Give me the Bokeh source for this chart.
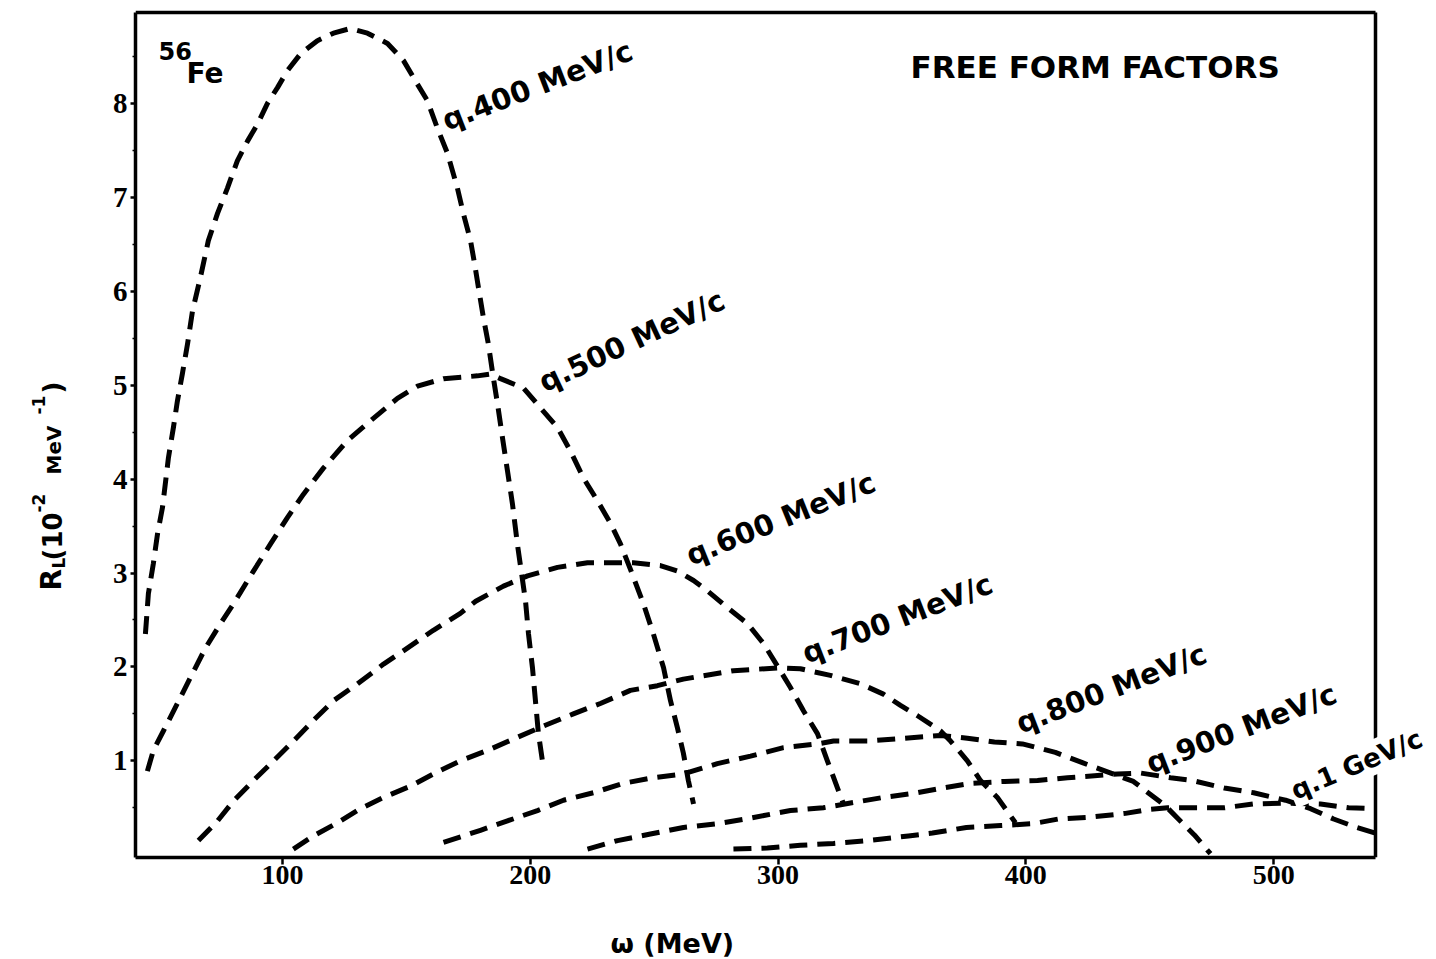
from bokeh.plotting import figure
from bokeh.models import Label, FixedTicker, Range1d
from bokeh.layouts import column, row
from bokeh.embed import file_html
from bokeh.resources import INLINE

# ---------------- data (omega in MeV, R_L in 10^-2 MeV^-1) ----------------
w_q400 = [44.7, 45.9, 47.9, 49.6, 51.6, 54.0, 56.0, 57.6, 59.6, 61.7, 63.7, 66.9, 70.1, 73.8,
          77.8, 81.8, 85.9, 89.9, 93.9, 98.0, 102.0, 107.3, 114.1, 120.6, 127.4, 134.3, 142.4,
          148.8, 153.7, 158.5, 162.5, 166.6, 170.6, 173.0, 175.9, 177.5, 179.1, 181.1, 183.1,
          185.1, 186.8, 188.8, 190.8, 192.8, 194.8, 198.1, 199.3, 200.9, 202.1, 203.3, 205.3]
r_q400 = [2.35, 2.78, 3.10, 3.42, 3.70, 4.23, 4.55, 4.83, 5.12, 5.44, 5.79, 6.15, 6.54, 6.83,
          7.10, 7.39, 7.60, 7.78, 8.00, 8.17, 8.35, 8.53, 8.67, 8.75, 8.80, 8.75, 8.64,
          8.46, 8.24, 8.03, 7.74, 7.47, 7.10, 6.83, 6.54, 6.30, 6.04, 5.72, 5.44,
          5.08, 4.80, 4.44, 4.09, 3.74, 3.31, 2.70, 2.35, 1.99, 1.64, 1.29, 0.93]

w_q500 = [45.5, 47.9, 52.0, 57.6, 63.7, 68.9, 75.0, 80.2, 88.3, 95.2, 102.0, 108.5, 116.6,
          126.2, 135.5, 146.4, 154.5, 165.0, 178.7, 183.9, 188.0, 197.3, 204.1, 211.0, 216.2,
          221.5, 227.1, 232.4, 236.4, 241.0, 245.7, 249.7, 253.8, 256.6, 259.4, 261.8, 263.8, 265.9]
r_q500 = [0.89, 1.11, 1.32, 1.61, 1.93, 2.20, 2.46, 2.67, 3.02, 3.31, 3.59, 3.84, 4.12,
          4.41, 4.62, 4.86, 4.99, 5.07, 5.10, 5.12, 5.07, 4.97, 4.76, 4.55, 4.30,
          4.01, 3.77, 3.53, 3.31, 3.00, 2.67, 2.35, 1.99, 1.64, 1.35, 1.08, 0.79, 0.54]

w_q600 = [66.1, 73.8, 80.2, 88.3, 96.4, 104.4, 112.5, 120.6, 130.3, 140.8, 150.4, 160.9, 171.8,
          178.0, 189.2, 198.9, 211.0, 223.1, 233.6, 241.6, 252.5, 259.4, 265.9, 271.5, 279.6,
          287.7, 294.1, 300.2, 305.0, 310.3, 315.9, 319.9, 324.0, 326.4]
r_q600 = [0.15, 0.36, 0.57, 0.79, 1.00, 1.21, 1.43, 1.64, 1.82, 2.03, 2.20, 2.39, 2.57,
          2.70, 2.86, 2.97, 3.06, 3.11, 3.11, 3.11, 3.08, 3.02, 2.92, 2.81, 2.63,
          2.46, 2.25, 1.99, 1.78, 1.53, 1.29, 1.00, 0.71, 0.54]

w_q700 = [104.4, 112.5, 122.2, 131.5, 140.8, 151.7, 160.9, 171.8, 182.7, 194.8, 205.3, 217.4,
          228.3, 240.4, 251.3, 261.8, 282.0, 301.0, 309.0, 321.1, 333.3, 342.5, 349.4, 356.3,
          365.5, 369.6, 376.4, 381.7, 388.5, 395.8]
r_q700 = [0.06, 0.20, 0.34, 0.49, 0.61, 0.73, 0.86, 1.00, 1.11, 1.25, 1.37, 1.50,
          1.61, 1.75, 1.80, 1.87, 1.96, 1.99, 1.98, 1.91, 1.82, 1.71, 1.59, 1.48,
          1.32, 1.21, 1.00, 0.79, 0.61, 0.34]

w_q800 = [165.0, 179.9, 190.8, 202.9, 213.4, 225.5, 237.6, 249.7, 261.8, 275.5, 288.9, 302.2,
          315.9, 322.4, 336.1, 350.7, 365.5, 376.4, 387.3, 398.6, 411.9, 422.8, 432.1, 443.4,
          456.3, 468.0, 474.5]
r_q800 = [0.13, 0.26, 0.36, 0.47, 0.58, 0.66, 0.76, 0.82, 0.86, 0.97, 1.05, 1.14,
          1.18, 1.21, 1.21, 1.24, 1.27, 1.24, 1.20, 1.18, 1.09, 0.98, 0.89, 0.78,
          0.52, 0.21, 0.01]

w_q900 = [223.1, 235.2, 248.5, 261.8, 275.5, 288.9, 305.0, 318.3, 329.2, 342.5, 356.3, 366.3,
          377.6, 391.4, 404.7, 416.8, 427.7, 437.0, 446.2, 458.4, 467.2, 480.1, 491.9, 504.8,
          514.9, 524.2, 533.5, 541.0]
r_q900 = [0.06, 0.15, 0.22, 0.29, 0.33, 0.39, 0.47, 0.50, 0.55, 0.61, 0.66, 0.71,
          0.76, 0.78, 0.79, 0.82, 0.84, 0.86, 0.87, 0.82, 0.79, 0.71, 0.66, 0.58,
          0.49, 0.38, 0.29, 0.23]

w_q1000 = [282.0, 295.7, 309.0, 322.4, 336.1, 352.6, 362.3, 376.0, 389.8, 402.7, 413.2, 426.1,
           440.2, 449.1, 457.2, 467.6, 480.1, 491.9, 504.8, 518.9, 530.2, 541.0]
r_q1000 = [0.06, 0.07, 0.10, 0.12, 0.15, 0.20, 0.23, 0.29, 0.31, 0.33, 0.38, 0.40,
           0.44, 0.48, 0.50, 0.50, 0.50, 0.54, 0.55, 0.54, 0.50, 0.49]

curves = [(w_q400, r_q400), (w_q500, r_q500), (w_q600, r_q600), (w_q700, r_q700),
          (w_q800, r_q800), (w_q900, r_q900), (w_q1000, r_q1000)]

curve_labels = ["q.400 MeV/c", "q.500 MeV/c", "q.600 MeV/c", "q.700 MeV/c",
                "q.800 MeV/c", "q.900 MeV/c", "q.1 GeV/c"]

x_ticks = [100, 200, 300, 400, 500]
y_ticks = [1, 2, 3, 4, 5, 6, 7, 8]
y_minor = [0.5, 1.5, 2.5, 3.5, 4.5, 5.5, 6.5, 7.5, 8.5]

# ---------------- page geometry (pixels) ----------------
PW = 1436
WL = 100                    # left strip (y title)
HM = 897                    # main figure height
HB = 62                     # bottom strip (x title)
FL, FR, FT, FB = 135, 1375, 12, 857   # visible plot box on the page
X0, X1 = 40.7, 541.1        # omega at box left / right
Y0, Y1 = -0.03, 8.97        # R_L at box bottom / top
KX = (X1 - X0) / (FR - FL)
KY = (Y1 - Y0) / (FB - FT)


def dx(sx):
    return X0 + (sx - FL) * KX


def dy(sy):
    return Y0 + (FB - sy) * KY


BLACK = "black"
FONT = "DejaVu Sans"

# ---------------- main figure ----------------
p = figure(width=PW - WL, height=HM, title=None,
           x_range=Range1d(X0, dx(PW)), y_range=Range1d(Y0, dy(0)),
           output_backend="svg", toolbar_location=None,
           min_border_left=FL - WL, min_border_right=0,
           min_border_top=0, min_border_bottom=HM - FB)
p.xgrid.visible = False
p.ygrid.visible = False
p.background_fill_color = "white"
p.border_fill_color = "white"
p.outline_line_color = None

TICK_FONT = "Liberation Serif"
for ax in (p.xaxis[0], p.yaxis[0]):
    ax.axis_line_width = 3.5
    ax.axis_line_color = BLACK
    ax.major_tick_line_width = 2.5
    ax.major_tick_line_color = BLACK
    ax.major_tick_in = 0
    ax.major_label_text_font = TICK_FONT
    ax.major_label_text_font_style = "bold"
    ax.major_label_text_color = BLACK

p.xaxis.bounds = (X0, X1)
p.yaxis.bounds = (Y0, Y1)

p.xaxis.ticker = FixedTicker(ticks=x_ticks)
p.xaxis.major_tick_out = 7
p.xaxis.major_label_standoff = 1
p.xaxis.major_label_text_font_size = "28px"
p.xaxis.minor_tick_line_color = None

p.yaxis.ticker = FixedTicker(ticks=y_ticks, minor_ticks=y_minor)
p.yaxis.major_tick_out = 5
p.yaxis.major_label_standoff = 3
p.yaxis.major_label_text_font_size = "29px"
p.yaxis.minor_tick_out = 3
p.yaxis.minor_tick_in = 0
p.yaxis.minor_tick_line_width = 1.5
p.yaxis.minor_tick_line_color = BLACK

# box: top and right edges (left / bottom are the axis lines)
p.line([X0, X1], [Y1, Y1], line_color=BLACK, line_width=3.5)
p.line([X1, X1], [Y0, Y1], line_color=BLACK, line_width=3.5)

# curves
for xs, ys in curves:
    p.line(xs, ys, line_color=BLACK, line_width=5, line_dash="18 10", line_join="round")

# curve labels: (page x, page y of baseline start, angle)
label_pos = [(443, 121, 21), (540, 383, 25), (687, 556, 22), (803, 654, 21),
             (1017, 724, 21), (1147, 764, 21), (1290, 792, 23)]
for txt, (sx, sy, ang) in zip(curve_labels, label_pos):
    lab = Label(x=dx(sx), y=dy(sy), text=txt, angle=ang, angle_units="deg",
                text_font=FONT, text_font_style="bold", text_font_size="29px",
                text_align="left", text_baseline="alphabetic", text_color=BLACK)
    if txt.startswith("q.1"):
        lab.text_font_size = "26px"
        lab.background_fill_color = "white"
        lab.padding = 2
    p.add_layout(lab)

p.add_layout(Label(x=dx(158), y=dy(50), text="56", text_font=FONT, text_color=BLACK,
                   text_font_style="bold", text_font_size="24px", text_align="left",
                   text_baseline="alphabetic"))
p.add_layout(Label(x=dx(186), y=dy(73), text="Fe", text_font=FONT, text_color=BLACK,
                   text_font_style="bold", text_font_size="28px", text_align="left",
                   text_baseline="alphabetic"))
p.add_layout(Label(x=dx(1100), y=dy(66), text="FREE FORM  FACTORS", text_font=FONT,
                   text_color=BLACK, text_font_style="bold", text_font_size="31px",
                   text_align="center", text_baseline="alphabetic"))

# ---------------- left strip: y title (frame = page rows 0..FB) ----------------
pl = figure(width=WL, height=HM, title=None, x_range=Range1d(0, WL), y_range=Range1d(0, FB),
            output_backend="svg", toolbar_location=None,
            x_axis_location=None, y_axis_location=None,
            min_border_left=0, min_border_right=0, min_border_top=0,
            min_border_bottom=HM - FB)
pl.grid.visible = False
pl.outline_line_color = None
pl.background_fill_color = "white"
pl.border_fill_color = "white"
# (text, baseline page x, start page y, size)
ypieces = [("R", 51, 590, "28px"), ("L", 58, 568, "17px"), ("(10", 52, 560, "26px"),
           ("-2", 38, 512, "17px"), ("MeV", 53, 474, "20px"), ("-1", 38, 414, "17px"),
           (")", 52, 393, "26px")]
for txt, bx, sy, fs in ypieces:
    pl.add_layout(Label(x=bx, y=FB - sy, text=txt, angle=90, angle_units="deg",
                        text_font=FONT, text_font_style="bold", text_font_size=fs,
                        text_color=BLACK, text_align="left", text_baseline="alphabetic"))

# ---------------- bottom strip: x title ----------------
pb = figure(width=PW, height=HB, title=None, x_range=Range1d(0, PW), y_range=Range1d(0, HB),
            output_backend="svg", toolbar_location=None,
            x_axis_location=None, y_axis_location=None,
            min_border_left=0, min_border_right=0, min_border_top=0, min_border_bottom=0)
pb.grid.visible = False
pb.outline_line_color = None
pb.background_fill_color = "white"
pb.border_fill_color = "white"
pb.add_layout(Label(x=610, y=HM + HB - 943, text="\u03c9  (MeV)", text_font=FONT,
                    text_color=BLACK, text_font_style="bold", text_font_size="27px",
                    text_align="left", text_baseline="alphabetic"))

layout = column(row(pl, p), pb)
open("out.html", "w").write(file_html(layout, INLINE))
